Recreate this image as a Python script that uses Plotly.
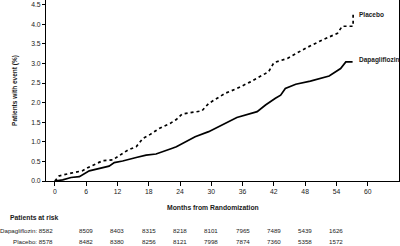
import plotly.graph_objects as go

placebo_months = [0, 0.8, 3.1, 5.3, 6.3, 9.2, 11.1, 14.0, 15.6, 16.9, 18.3, 20.0, 22.1, 23.3, 24.4,
                  28.2, 29.5, 32.7, 34.9, 37.5, 41.0, 42.0, 44.6, 48.1, 51.0, 54.2, 55.1, 57.2, 57.2]
placebo_pct = [0, 0.13, 0.20, 0.26, 0.34, 0.52, 0.54, 0.79, 0.875, 1.09, 1.19, 1.34, 1.47, 1.57, 1.71,
               1.79, 1.98, 2.24, 2.36, 2.53, 2.79, 3.02, 3.13, 3.39, 3.58, 3.77, 3.95, 3.95, 4.26]

dapa_months = [0, 1.5, 3.1, 4.7, 6.6, 8.5, 10.4, 11.4, 13.0, 15.6, 17.5, 19.4, 21.3, 22.4, 23.3,
               26.9, 29.5, 32.1, 34.9, 38.8, 40.4, 42.3, 43.3, 44.2, 46.2, 49.0, 52.6, 54.8, 55.8, 57.1]
dapa_pct = [0, 0.03, 0.09, 0.11, 0.26, 0.32, 0.38, 0.47, 0.51, 0.60, 0.66, 0.69, 0.77, 0.83, 0.875,
            1.13, 1.26, 1.43, 1.62, 1.77, 1.94, 2.11, 2.19, 2.36, 2.47, 2.55, 2.68, 2.87, 3.04, 3.04]

x_ticks = [0, 6, 12, 18, 24, 30, 36, 42, 48, 54, 60]
risk_months = [0, 6, 12, 18, 24, 30, 36, 42, 48, 54]
risk_dapa = [8582, 8509, 8403, 8315, 8218, 8101, 7965, 7489, 5439, 1626]
risk_placebo = [8578, 8482, 8380, 8256, 8121, 7998, 7874, 7360, 5358, 1572]

FONT = "Liberation Sans, Arial, sans-serif"
TXT = "#1a1a1a"

fig = go.Figure()
fig.add_trace(go.Scatter(x=placebo_months, y=placebo_pct, mode="lines",
                         line=dict(color="black", width=1.7, dash="dot"), name="Placebo"))
fig.add_trace(go.Scatter(x=dapa_months, y=dapa_pct, mode="lines",
                         line=dict(color="black", width=1.7), name="Dapagliflozin"))

ann = []
ann.append(dict(x=placebo_months[-1] + 0.8, y=placebo_pct[-1], xref="x", yref="y", text="<b>Placebo</b>",
                showarrow=False, xanchor="left", yanchor="middle", font=dict(size=6.5, family=FONT, color=TXT)))
ann.append(dict(x=dapa_months[-1] + 0.8, y=dapa_pct[-1] + 0.05, xref="x", yref="y", text="<b>Dapagliflozin</b>",
                showarrow=False, xanchor="left", yanchor="middle", font=dict(size=6.5, family=FONT, color=TXT)))

ann.append(dict(x=213, y=207, xref="paper", yref="paper", text="<b>Months from Randomization</b>",
                showarrow=False, font=dict(size=6.8, family=FONT, color=TXT)))
RS = 6.2
for i, m in enumerate(risk_months):
    if i == 0:
        ann.append(dict(x=m, y=230.5, xref="x", yref="paper", text=f"Dapagliflozin: {risk_dapa[i]}",
                        showarrow=False, xanchor="right", font=dict(size=RS, family=FONT, color=TXT)))
        ann.append(dict(x=m, y=241.5, xref="x", yref="paper", text=f"Placebo: {risk_placebo[i]}",
                        showarrow=False, xanchor="right", font=dict(size=RS, family=FONT, color=TXT)))
    else:
        ann.append(dict(x=m, y=230.5, xref="x", yref="paper", text=str(risk_dapa[i]),
                        showarrow=False, xanchor="center", font=dict(size=RS, family=FONT, color=TXT)))
        ann.append(dict(x=m, y=241.5, xref="x", yref="paper", text=str(risk_placebo[i]),
                        showarrow=False, xanchor="center", font=dict(size=RS, family=FONT, color=TXT)))
ann.append(dict(x=8, y=217.5, xref="paper", yref="paper", text="<b>Patients at risk</b>",
                showarrow=False, xanchor="left", font=dict(size=6.8, family=FONT, color=TXT)))

# convert pixel positions into paper fractions
H, T, B = 246, 0, 65
plot_h = H - T - B
for a in ann:
    if a.get("yref") == "paper":
        a["y"] = (H - B - a["y"]) / plot_h
        a["yanchor"] = "middle"
    if a.get("xref") == "paper":
        a["x"] = (a["x"] - 46) / (400 - 46 - 1)

fig.update_layout(
    width=400, height=246,
    margin=dict(l=46, r=1, t=T, b=B),
    paper_bgcolor="white", plot_bgcolor="white",
    showlegend=False,
    font=dict(family=FONT, size=6.5, color=TXT),
    annotations=ann,
    xaxis=dict(range=[-1.7, 66], tickvals=x_ticks, ticks="outside", ticklen=4, tickwidth=1,
               tickcolor="black", showline=True, linecolor="black", linewidth=1, mirror=True,
               showgrid=False, zeroline=False, tickfont=dict(size=6.8)),
    yaxis=dict(range=[0, 4.62], tickvals=[0, 0.5, 1, 1.5, 2, 2.5, 3, 3.5, 4, 4.5], tickformat=".1f",
               ticks="outside", ticklen=3, tickwidth=1, tickcolor="black", showline=True,
               linecolor="black", linewidth=1, mirror=True, showgrid=False, zeroline=False,
               tickfont=dict(size=6.8),
               title=dict(text="<b>Patients with event (%)</b>", font=dict(size=6.5), standoff=12)),
)

fig.write_html("out.html")
